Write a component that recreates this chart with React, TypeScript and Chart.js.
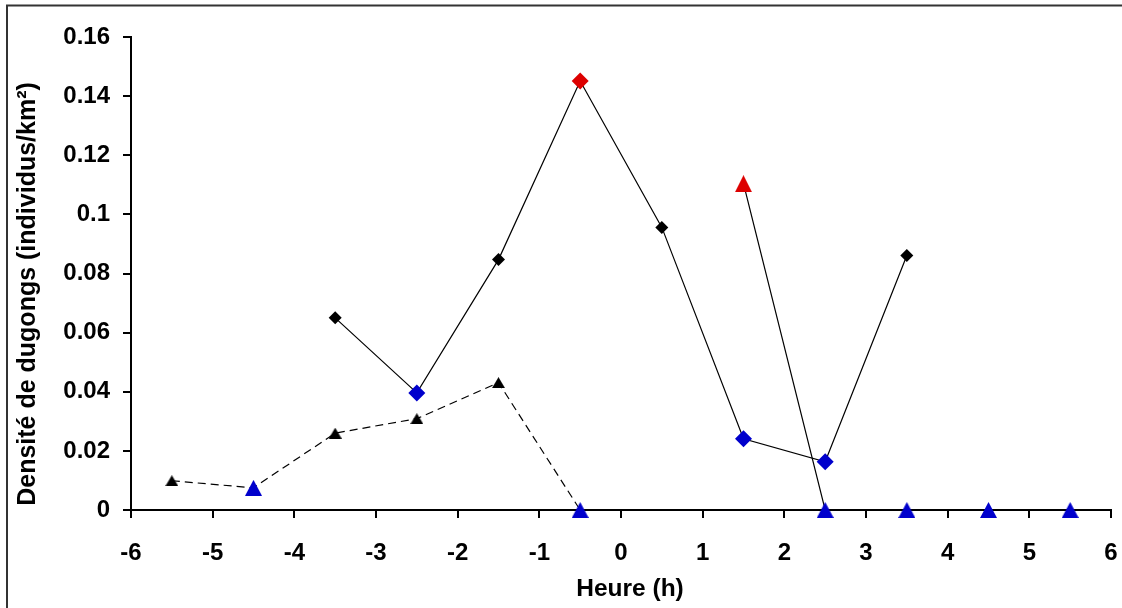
import { useEffect, useRef } from 'react';
import { Chart, registerables } from 'chart.js';

Chart.register(...registerables);

// Hour offsets (h) at which densities were measured
const hours = [-5.5, -4.5, -3.5, -2.5, -1.5, -0.5, 0.5, 1.5, 2.5, 3.5, 4.5, 5.5];

// Diamond series (solid line)
const diamondSeries: (number | null)[] = [null, null, 0.065, 0.0396, 0.0847, 0.1451, 0.0956, 0.0241, 0.0163, 0.0861, null, null];
// Triangle series (dashed before 0 h, solid after)
const triangleSeries: (number | null)[] = [0.0099, 0.0075, 0.026, 0.0309, 0.0431, 0, null, 0.1104, 0, 0, 0, 0];

// Marker colour per point: k = black, b = blue, r = red
const diamondColors = ['k', 'k', 'k', 'b', 'k', 'r', 'k', 'b', 'b', 'k', 'k', 'k'];
const triangleColors = ['k', 'b', 'k', 'k', 'k', 'b', 'k', 'r', 'b', 'b', 'b', 'b'];

const xTickLabels = ['-6', '-5', '-4', '-3', '-2', '-1', '0', '1', '2', '3', '4', '5', '6'];
const yTickLabels = ['0', '0.02', '0.04', '0.06', '0.08', '0.1', '0.12', '0.14', '0.16'];

const xTitle = 'Heure (h)';
const yTitle = 'Densité de dugongs (individus/km²)';

const PALETTE: Record<string, string> = { k: '#000000', b: '#0000CC', r: '#DD0000' };
const FONT = '"Liberation Sans", Arial, sans-serif';

// Triangle marker centred in its own box
function makeTriangle(color: string, w: number, h: number): HTMLCanvasElement {
  const c = document.createElement('canvas');
  c.width = w;
  c.height = h;
  const g = c.getContext('2d')!;
  g.fillStyle = color;
  g.beginPath();
  g.moveTo(w / 2, 0);
  g.lineTo(w, h);
  g.lineTo(0, h);
  g.closePath();
  g.fill();
  return c;
}

const framePlugin = {
  id: 'frameAndTitles',
  afterDraw(chart: Chart) {
    const { ctx } = chart;
    ctx.save();
    ctx.strokeStyle = '#333333';
    ctx.lineWidth = 2;
    ctx.beginPath();
    ctx.moveTo(7, 620);
    ctx.lineTo(7, 5.5);
    ctx.lineTo(1130, 5.5);
    ctx.stroke();

    ctx.fillStyle = '#000';
    ctx.textAlign = 'center';
    ctx.textBaseline = 'middle';
    ctx.font = `bold 24.5px ${FONT}`;
    ctx.fillText(xTitle, 630, 589);
    ctx.font = `bold 25px ${FONT}`;
    ctx.translate(28, 294);
    ctx.rotate(-Math.PI / 2);
    ctx.fillText(yTitle, 0, 0);
    ctx.restore();
  },
};

export default function App() {
  const canvasRef = useRef<HTMLCanvasElement | null>(null);

  useEffect(() => {
    if (!canvasRef.current) return;

    const triMarkers: Record<string, HTMLCanvasElement> = {
      k: makeTriangle(PALETTE.k, 13, 11),
      b: makeTriangle(PALETTE.b, 17, 16),
      r: makeTriangle(PALETTE.r, 17, 17),
    };

    const diamondData = hours.map((x, i) => ({ x, y: diamondSeries[i] }));
    const triangleData = hours.map((x, i) => ({ x, y: triangleSeries[i] }));

    const chart = new Chart(canvasRef.current, {
      type: 'line',
      data: {
        datasets: [
          {
            data: diamondData as any,
            borderColor: '#000',
            borderWidth: 1.2,
            pointStyle: 'rectRot',
            pointRadius: diamondColors.map((c) => (c === 'k' ? 6.5 : 8.5)),
            pointBackgroundColor: diamondColors.map((c) => PALETTE[c]),
            pointBorderWidth: 0,
            spanGaps: false,
            clip: false as any,
          },
          {
            data: triangleData as any,
            borderColor: '#000',
            borderWidth: 1.2,
            pointStyle: triangleColors.map((c) => triMarkers[c]) as any,
            pointRadius: 8,
            pointBorderWidth: 0,
            spanGaps: false,
            clip: false as any,
            segment: {
              borderDash: (ctx: any) => (ctx.p0.parsed.x < 0 ? [8, 5] : undefined),
            },
          },
        ],
      },
      options: {
        animation: false,
        responsive: false,
        events: [],
        layout: { padding: { top: 37, right: 11, left: 0, bottom: 0 } },
        plugins: { legend: { display: false }, tooltip: { enabled: false } },
        scales: {
          x: {
            type: 'linear',
            min: -6,
            max: 6,
            afterFit: (s: any) => {
              s.height = 98;
              s.paddingLeft = 0;
              s.paddingRight = 0;
            },
            ticks: {
              stepSize: 1,
              color: '#000',
              padding: 21,
              maxRotation: 0,
              autoSkip: false,
              font: { family: FONT, size: 24, weight: 'bold' },
              callback: (_v: any, i: number) => xTickLabels[i],
            },
            grid: { drawOnChartArea: false, drawTicks: true, tickLength: 8, color: '#000', lineWidth: 2 },
            border: { display: true, color: '#000', width: 2 },
          },
          y: {
            type: 'linear',
            min: 0,
            max: 0.16,
            afterFit: (s: any) => {
              s.width = 131;
              s.paddingTop = 0;
              s.paddingBottom = 0;
            },
            ticks: {
              stepSize: 0.02,
              color: '#000',
              padding: 13,
              autoSkip: false,
              font: { family: FONT, size: 24, weight: 'bold' },
              callback: (_v: any, i: number) => yTickLabels[i],
            },
            grid: { drawOnChartArea: false, drawTicks: true, tickLength: 8, color: '#000', lineWidth: 2 },
            border: { display: true, color: '#000', width: 2 },
          },
        },
      },
      plugins: [framePlugin],
    });

    return () => chart.destroy();
  }, []);

  return (
    <div style={{ position: 'absolute', left: 0, top: 0, width: 1122, height: 608, background: '#fff' }}>
      <canvas ref={canvasRef} width={1122} height={608} style={{ display: 'block' }} />
    </div>
  );
}
